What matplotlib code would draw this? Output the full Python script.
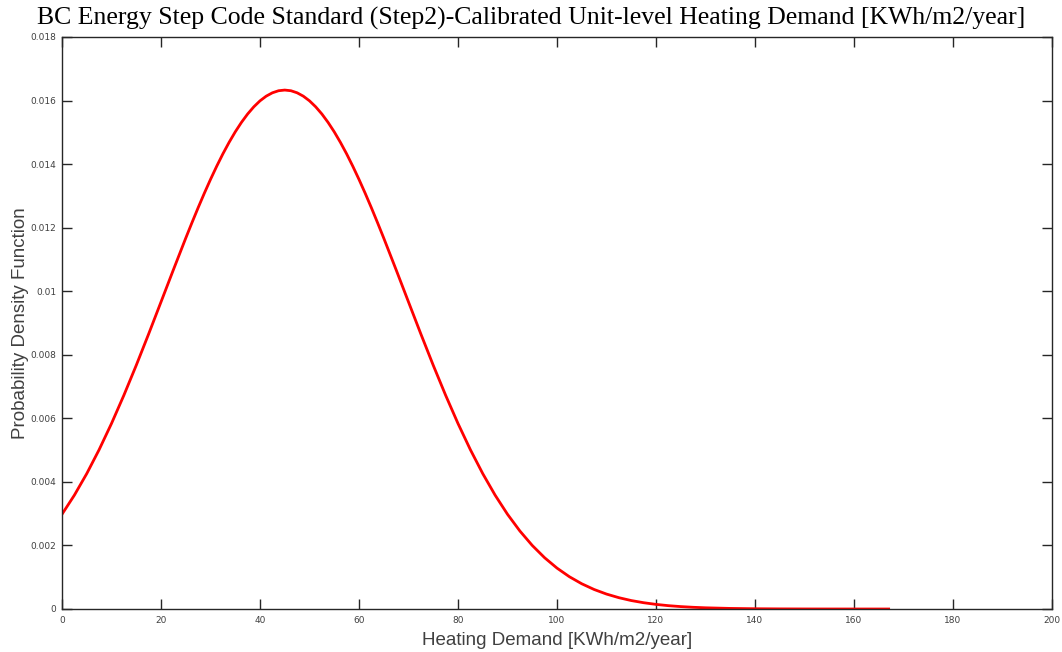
import matplotlib
matplotlib.use("Agg")
import matplotlib.pyplot as plt

# 그림에서 읽은 값들 (Heating demand vs PDF)
heat = [0, 2.5, 5, 7.5, 10, 12.5, 15, 17.5, 20, 22.5, 25, 26.25, 27.5, 28.75, 30, 31.25, 32.5, 33.75,
        35, 36.25, 37.5, 38.75, 40, 41.25, 42.5, 43.75, 45, 46.25, 47.5, 48.75, 50, 51.25, 52.5, 53.75,
        55, 56.25, 57.5, 58.75, 60, 61.25, 62.5, 63.75, 65, 67.5, 70, 72.5, 75, 77.5, 80, 82.5, 85, 87.5,
        90, 92.5, 95, 97.5, 100, 102.5, 105, 107.5, 110, 112.5, 115, 117.5, 120, 122.5, 125, 127.5,
        130, 135, 140, 145, 150, 155, 160, 167]
pdf = [0.002981, 0.003582, 0.004260, 0.005013, 0.005837, 0.006726, 0.007669, 0.008653, 0.009662,
       0.010674, 0.011671, 0.012155, 0.012627, 0.013082, 0.013518, 0.013932, 0.014322, 0.014683,
       0.015015, 0.015313, 0.015577, 0.015803, 0.015991, 0.016138, 0.016244, 0.016309,
       0.016330, 0.016309, 0.016244, 0.016138, 0.015991, 0.015803, 0.015577, 0.015313,
       0.015015, 0.014683, 0.014322, 0.013932, 0.013518, 0.013082, 0.012627, 0.012155, 0.011671,
       0.010674, 0.009662, 0.008653, 0.007669, 0.006726, 0.005837, 0.005013, 0.004260, 0.003582,
       0.002981, 0.002455, 0.002000, 0.001613, 0.001287, 0.001016, 0.000794, 0.000614, 0.000470,
       0.000356, 0.000266, 0.000198, 0.000145, 0.000105, 0.0000756, 0.0000538,
       0.0000378, 0.0000181, 0.0000083, 0.0000037, 0.0000015, 0.0000006, 0.0000002, 0.0]

xticks = [0, 20, 40, 60, 80, 100, 120, 140, 160, 180, 200]
yticks = [0, 0.002, 0.004, 0.006, 0.008, 0.01, 0.012, 0.014, 0.016, 0.018]
ytick_labels = ["0", "0.002", "0.004", "0.006", "0.008", "0.01", "0.012", "0.014", "0.016", "0.018"]

title = "BC Energy Step Code Standard (Step2)-Calibrated Unit-level Heating Demand [KWh/m2/year]"

fig = plt.figure(figsize=(10.62, 6.52), dpi=100)
ax = fig.add_axes([62/1062, 1 - 609/652, (1052-62)/1062, (609-37)/652])

ax.plot(heat, pdf, color="red", linewidth=2, solid_joinstyle="round")

ax.set_xlim(0, 200)
ax.set_ylim(0, 0.018)
ax.set_xticks(xticks)
ax.set_yticks(yticks)
ax.set_yticklabels(ytick_labels)
ax.tick_params(direction="in", length=7, width=1, labelsize=6.5, colors="#262626",
               labelcolor="#404040", top=True, right=True, pad=4)
ax.tick_params(axis="x", pad=5)
for s in ax.spines.values():
    s.set_color("#262626")
    s.set_linewidth(1)

ax.set_xlabel("Heating Demand [KWh/m2/year]", fontsize=13.5, family="Liberation Sans",
              color="#404040", labelpad=5)
ax.set_ylabel("Probability Density Function", fontsize=13.5, family="Liberation Sans",
              color="#404040", labelpad=1)
fig.text(0.5, 1 - 18/652, title, ha="center", va="center", fontsize=18.5,
         family="Liberation Serif", color="black")

fig.savefig("out.png", dpi=100)
